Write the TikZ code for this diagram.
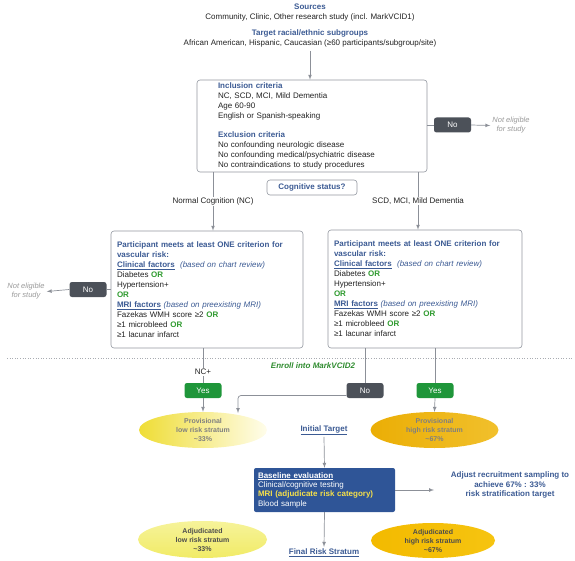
\documentclass[tikz,border=0pt]{standalone}
\usepackage{fontspec}
\setmainfont{Liberation Sans}
\usepackage{xcolor}
\usetikzlibrary{shapes.geometric,positioning}

\definecolor{titleblue}{HTML}{3B5A93}
\definecolor{orgreen}{HTML}{2E9A2E}
\definecolor{enrollgreen}{HTML}{2E8B2E}
\definecolor{yesgreen}{HTML}{1F963A}
\definecolor{nogray}{HTML}{4C5159}
\definecolor{linegray}{HTML}{8C9098}
\definecolor{boxgray}{HTML}{9297A0}
\definecolor{basefill}{HTML}{2F5597}
\definecolor{mriyellow}{HTML}{F6E04A}
\definecolor{textdark}{HTML}{222222}
\definecolor{paleyellow}{HTML}{F6F39A}
\definecolor{lowyellow}{HTML}{F1EB66}
\definecolor{provyellow}{HTML}{EFDD35}
\definecolor{provwhite}{HTML}{FFFDEB}
\definecolor{goldleft}{HTML}{EBAE05}
\definecolor{goldmid}{HTML}{F8D752}
\definecolor{goldright}{HTML}{F1C02C}
\definecolor{adjgold}{HTML}{F3BA00}
\definecolor{adjgoldlight}{HTML}{F6C410}

\newcommand{\orw}{\textcolor{orgreen}{\textbf{OR}}}
\newcommand{\vascrisk}{%
  \textcolor{titleblue}{\textbf{Participant meets at least ONE criterion for}}\\
  \textcolor{titleblue}{\textbf{vascular risk:}}\\
  \textcolor{titleblue}{\textbf{\underline{Clinical factors}}\ \ \textit{(based on chart review)}}\\
  Diabetes \orw\\
  Hypertension+\\
  \orw\\
  \textcolor{titleblue}{\textbf{\underline{MRI factors}} \textit{(based on preexisting MRI)}}\\
  Fazekas WMH score ≥2 \orw\\
  ≥1 microbleed \orw\\
  ≥1 lacunar infarct}

\begin{document}
\begin{tikzpicture}[
  x=1pt,
  y=-1pt,
  font=\fontsize{8}{10}\selectfont,
  text=textdark,
  link/.style={
    draw=linegray,
    line width=0.7pt
  },
  arrow/.style={
    link,
    -latex
  },
  critbox/.style={
    draw=boxgray,
    line width=0.6pt,
    rounded corners=3pt,
    align=left,
    inner ysep=0pt
  },
  lbl/.style={
    fill=white,
    inner sep=1pt
  },
  yesbox/.style={
    fill=yesgreen,
    text=white,
    rounded corners=2.5pt,
    minimum width=37pt,
    minimum height=15pt,
    inner sep=0pt
  },
  nobox/.style={
    yesbox,
    fill=nogray
  },
  noteligible/.style={
    text=gray!80,
    align=center,
    inner sep=2pt,
    font=\fontsize{7.5}{9}\selectfont\itshape
  },
  stratum/.style={
    ellipse,
    minimum width=128pt,
    minimum height=36pt,
    inner sep=0pt,
    align=center,
    font=\fontsize{7}{9}\selectfont\bfseries
  },
  target/.style={
    text=titleblue,
    inner sep=2pt,
    font=\fontsize{8}{10}\selectfont\bfseries
  }
]
  \useasboundingbox (0,0) rectangle (575,561);

  \node[align=center] (src) at (310,13)
    {\textcolor{titleblue}{\textbf{Sources}}\\
     Community, Clinic, Other research study (incl. MarkVCID1)};
  \node[align=center] (tgt) at (310,38.5)
    {\textcolor{titleblue}{\textbf{Target racial/ethnic subgroups}}\\
     African American, Hispanic, Caucasian (≥60 participants/subgroup/site)};

  \node[critbox, inner xsep=21pt, text width=188pt, minimum height=92pt] (incl) at (312,126)
    {\textcolor{titleblue}{\textbf{Inclusion criteria}}\\
     NC, SCD, MCI, Mild Dementia\\
     Age 60-90\\
     English or Spanish-speaking\\[9pt]
     \textcolor{titleblue}{\textbf{Exclusion criteria}}\\
     No confounding neurologic disease\\
     No confounding medical/psychiatric disease\\
     No contraindications to study procedures};
  \draw[arrow] (tgt.south) -- (tgt.south |- incl.north);

  \node[nobox] (noincl) at (452.5,125) {No};
  \node[noteligible] (ne1) at (511,125.5) {Not eligible\\for study};
  \draw[link] (incl.east |- noincl) -- (noincl.west);
  \draw[arrow] (noincl.east) -- (ne1.west);

  \node[draw=boxgray, line width=0.6pt, rounded corners=3pt, minimum width=90pt,
    minimum height=15pt, inner sep=0pt, text=titleblue, font=\fontsize{8}{10}\selectfont\bfseries]
    (cog) at (312,187.5) {Cognitive status?};

  \node[critbox, inner xsep=6pt, text width=180pt, minimum height=117pt] (leftbox) at (207,289.5) {\vascrisk};
  \node[critbox, inner xsep=6pt, text width=182pt, minimum height=118pt] (rightbox) at (425,289) {\vascrisk};

  \coordinate (ncx) at (213,0);
  \coordinate (mcx) at (418,0);
  \draw[arrow] (incl.south -| ncx) -- node[lbl] {Normal Cognition (NC)} (leftbox.north -| ncx);
  \draw[arrow] (incl.south -| mcx) -- node[lbl] {SCD, MCI, Mild Dementia} (rightbox.north -| mcx);

  \node[nobox] (noleft) at (88,289.5) {No};
  \node[noteligible] (ne2) at (26,291.5) {Not eligible\\for study};
  \draw[link] (leftbox.west |- noleft) -- (noleft.east);
  \draw[arrow] (noleft.west) -- (ne2.east);

  % enrollment line
  \coordinate (dl) at (7,358);
  \coordinate (dr) at (572,358);
  \draw[linegray!75, dotted, line width=0.6pt] (dl) -- (dr);
  \node[text=enrollgreen, font=\fontsize{8}{10}\selectfont\bfseries\itshape] (enroll) at (313,366) {Enroll into MarkVCID2};

  \node[yesbox] (yes1) at (203,390.5) {Yes};
  \node[nobox] (no2) at (365,390.5) {No};
  \node[yesbox] (yes2) at (435,390.5) {Yes};
  \draw[link] (leftbox.south -| yes1) -- node[lbl, pos=0.69] {NC+} (yes1.north);
  \draw[link] (rightbox.south -| no2) -- (no2.north);
  \draw[link] (rightbox.south -| yes2) -- (yes2.north);

  \node[stratum, text=gray, left color=provyellow, middle color=paleyellow, right color=provwhite] (lowprov) at (203,430)
    {Provisional\\low risk stratum\\\textasciitilde33\%};
  \node[stratum, text=gray, left color=goldleft, middle color=goldmid, right color=goldright] (highprov) at (434.5,430)
    {Provisional\\high risk stratum\\\textasciitilde67\%};
  \coordinate (lowin) at (238,413);
  \draw[arrow] (yes1.south) -- (lowprov.north);
  \draw[arrow] (yes2.south) -- (highprov.north);
  \draw[arrow, rounded corners=3pt] ([yshift=-5pt]no2.west) -| (lowin);

  \node[target] (init) at (324,430) {\underline{Initial Target}};

  \node[fill=basefill, rounded corners=2pt, minimum width=141pt, minimum height=44pt,
    inner xsep=4pt, inner ysep=0pt, text width=133pt, align=left, text=white,
    font=\fontsize{8}{9.3}\selectfont] (base) at (324.5,490)
    {\textbf{\underline{Baseline evaluation}}\\
     Clinical/cognitive testing\\
     \textcolor{mriyellow}{\textbf{MRI (adjudicate risk category)}}\\
     Blood sample};
  \draw[arrow] (init.south) -- (base.north);

  \node[text=titleblue, align=center, font=\fontsize{8}{9.5}\selectfont\bfseries] (adjust) at (510,485)
    {Adjust recruitment sampling to\\achieve 67\% : 33\%\\risk stratification target};
  \coordinate (adjin) at (434,490);
  \draw[arrow] (base.east) -- (base.east -| adjin);

  \node[target] (final) at (324,553) {\underline{Final Risk Stratum}};
  \draw[arrow] (base.south) -- (final.north);

  \node[stratum, text=black!70, minimum width=129pt, minimum height=37pt,
    top color=paleyellow, bottom color=lowyellow] (lowadj) at (202.5,539.5)
    {Adjudicated\\low risk stratum\\\textasciitilde33\%};
  \node[stratum, text=black!70, minimum width=124pt, minimum height=35pt,
    left color=adjgold, right color=adjgoldlight] (highadj) at (433,540.5)
    {Adjudicated\\high risk stratum\\\textasciitilde67\%};
\end{tikzpicture}
\end{document}
